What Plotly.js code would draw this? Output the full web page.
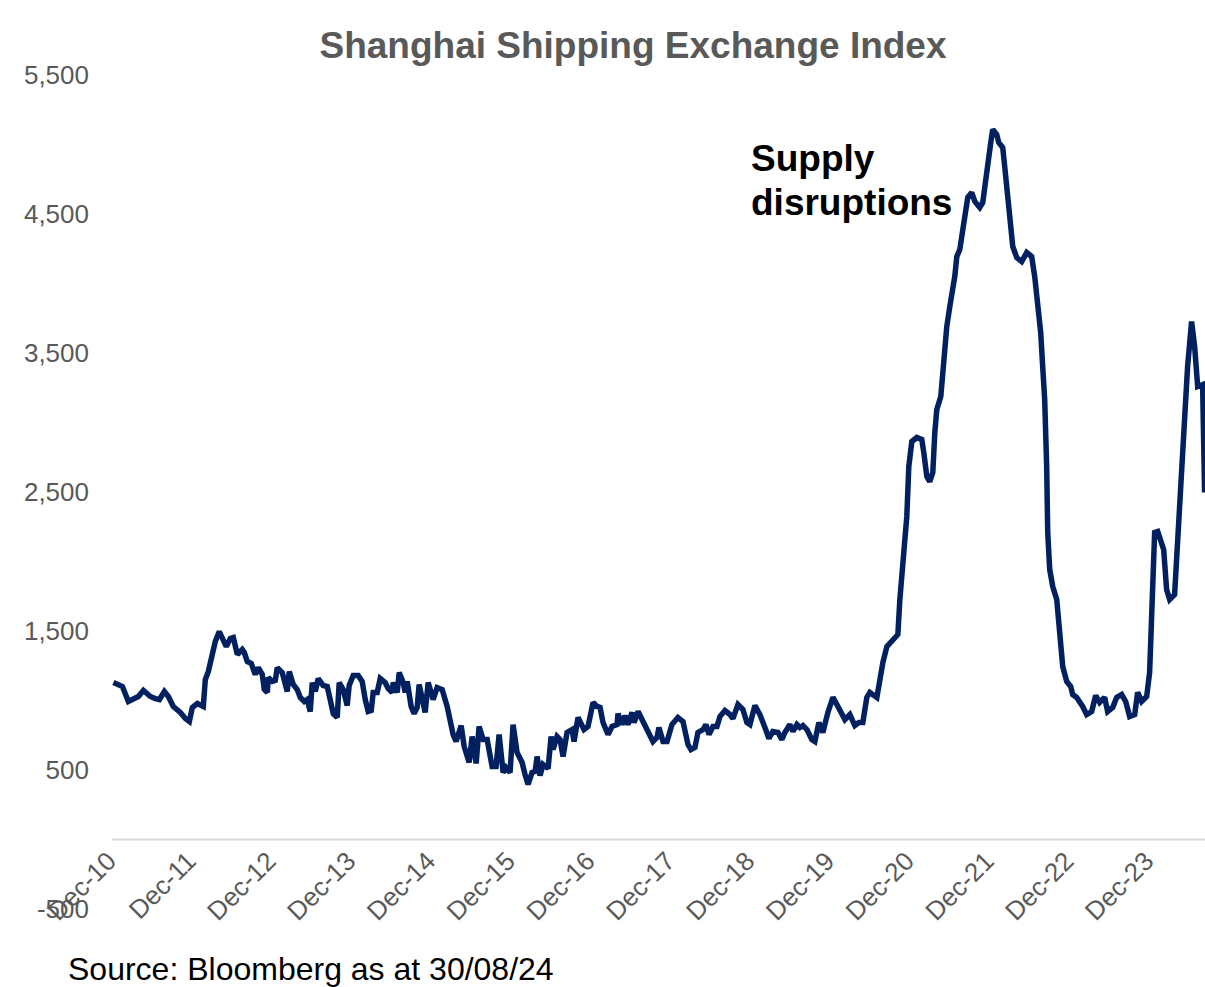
<!DOCTYPE html>
<html>
<head>
<meta charset="utf-8">
<script src="https://cdn.plot.ly/plotly-3.0.1.min.js"></script>
<style>
  html, body { margin: 0; padding: 0; background: #ffffff; }
  #chart { width: 1205px; height: 987px; }
</style>
</head>
<body>
<div id="chart"></div>
<script>
// Time position of each reading (decimal year) and SCFI value
const years = [
  2011.000,2011.113,2011.188,2011.250,2011.313,2011.376,2011.463,2011.526,2011.576,2011.639,2011.689,2011.751,2011.839,2011.902,2011.952,2011.989,
  2012.052,2012.127,2012.152,2012.190,2012.240,2012.277,2012.327,2012.365,2012.415,2012.465,2012.503,2012.553,2012.615,2012.641,2012.678,2012.728,2012.778,2012.816,2012.866,2012.891,2012.929,2012.941,2012.991,
  2013.029,2013.054,2013.116,2013.154,2013.179,2013.204,2013.254,2013.304,2013.342,2013.392,2013.429,2013.467,2013.492,2013.530,2013.567,2013.630,2013.680,2013.717,2013.755,2013.805,2013.830,2013.880,2013.930,2013.955,
  2014.006,2014.068,2014.118,2014.156,2014.193,2014.231,2014.256,2014.306,2014.344,2014.406,2014.444,2014.494,2014.506,2014.557,2014.582,2014.632,2014.657,2014.682,2014.732,2014.769,2014.807,2014.832,2014.882,2014.907,2014.945,
  2015.007,2015.057,2015.120,2015.183,2015.220,2015.258,2015.295,2015.358,2015.396,2015.458,2015.496,2015.546,2015.583,2015.634,2015.684,2015.746,2015.796,2015.834,2015.884,2015.921,2015.971,
  2016.009,2016.059,2016.122,2016.159,2016.197,2016.247,2016.285,2016.310,2016.347,2016.385,2016.448,2016.485,2016.510,2016.560,2016.598,2016.635,2016.685,2016.748,2016.773,2016.823,2016.898,2016.948,
  2017.011,2017.061,2017.099,2017.136,2017.199,2017.249,2017.312,2017.324,2017.374,2017.412,2017.449,2017.499,2017.525,2017.575,2017.637,2017.700,2017.762,2017.812,2017.837,2017.888,2017.938,
  2018.000,2018.075,2018.138,2018.201,2018.238,2018.288,2018.326,2018.389,2018.426,2018.464,2018.514,2018.564,2018.601,2018.664,2018.727,2018.764,2018.827,2018.889,2018.939,2018.977,
  2019.040,2019.102,2019.165,2019.215,2019.265,2019.328,2019.378,2019.415,2019.478,2019.516,2019.566,2019.603,2019.641,2019.691,2019.753,2019.791,2019.841,2019.891,2019.954,
  2020.017,2020.067,2020.129,2020.167,2020.229,2020.292,2020.342,2020.392,2020.442,2020.480,2020.568,2020.605,2020.643,2020.693,2020.755,2020.831,2020.856,2020.881,2020.906,2020.943,2020.968,
  2021.006,2021.068,2021.131,2021.156,2021.194,2021.231,2021.269,2021.294,2021.319,2021.369,2021.394,2021.444,2021.482,2021.507,2021.544,2021.570,2021.607,2021.645,2021.682,2021.707,2021.757,2021.795,2021.857,2021.895,2021.933,2021.958,2021.995,
  2022.020,2022.070,2022.095,2022.145,2022.170,2022.208,2022.246,2022.271,2022.321,2022.383,2022.446,2022.508,2022.546,2022.584,2022.621,2022.646,2022.671,2022.696,2022.709,2022.734,2022.772,2022.822,2022.859,2022.897,2022.947,2022.997,
  2023.022,2023.072,2023.147,2023.197,2023.260,2023.310,2023.360,2023.422,2023.460,2023.523,2023.573,2023.636,2023.686,2023.736,2023.799,2023.836,2023.886,2023.949,2023.986,
  2024.011,2024.036,2024.049,2024.087,2024.137,2024.162,2024.199,2024.237,2024.299,2024.337,2024.387,2024.425,2024.462,2024.512,2024.550,2024.588,2024.650,2024.675
];

const scfi = [
  1129,1101,993,1007,1029,1072,1029,1014,1007,1065,1029,957,914,870,849,950,
  978,957,1151,1209,1345,1424,1496,1446,1388,1446,1453,1331,1367,1345,1280,1266,1187,1237,1187,1079,1058,1165,1137,
  1144,1237,1201,1115,1065,1209,1115,1079,1022,993,1007,921,1129,1065,1158,1108,1101,1007,906,878,1129,1079,964,1108,
  1180,1180,1137,1007,921,928,1058,1058,1158,1129,1086,1058,1129,1058,1201,1129,1058,1137,957,906,950,1115,993,914,1129,
  1007,1093,1079,957,827,755,705,820,669,554,741,547,813,719,719,525,525,755,482,518,482,
  827,626,554,468,396,482,489,597,460,540,511,741,647,741,719,597,770,791,705,878,791,813,
  986,957,950,842,755,813,827,906,827,892,827,914,842,921,849,770,705,734,806,705,705,
  827,878,849,683,647,662,770,791,827,755,813,813,885,928,899,870,971,935,842,827,
  964,899,806,727,777,770,719,770,827,777,827,806,820,791,719,705,842,770,914,
  1022,971,899,863,899,820,842,842,1022,1058,1022,1165,1273,1388,1424,1475,1727,1870,2108,2324,2683,
  2863,2892,2878,2784,2611,2575,2640,2928,3093,3187,3403,3691,3834,3906,4050,4194,4244,4388,4511,4619,4654,4590,4547,4583,4748,4892,5014,
  5108,5072,5014,4978,4842,4604,4410,4266,4187,4158,4223,4194,4050,3863,3647,3403,3165,2683,2209,1942,1820,1727,1489,1245,1137,1101,
  1043,1022,957,899,921,1036,986,1022,921,950,1022,1043,993,885,899,1058,993,1029,1201,
  1748,1964,2209,2216,2137,2086,1799,1727,1763,2158,2683,3072,3403,3726,3547,3259,3273,2496
];

// X tick labels (one per December) and their positions
const xTickPos = [2010.94,2011.94,2012.94,2013.94,2014.94,2015.94,2016.94,2017.94,2018.94,2019.94,2020.94,2021.94,2022.94,2023.94];
const xTickText = ['Dec-10','Dec-11','Dec-12','Dec-13','Dec-14','Dec-15','Dec-16','Dec-17','Dec-18','Dec-19','Dec-20','Dec-21','Dec-22','Dec-23'];

// Y tick values and labels
const yTickVals = [-500, 500, 1500, 2500, 3500, 4500, 5500];
const yTickText = ['-500', '500', '1,500', '2,500', '3,500', '4,500', '5,500'];

const FONT = 'Liberation Sans, Arial, sans-serif';

const trace = {
  x: years,
  y: scfi,
  type: 'scatter',
  mode: 'lines',
  line: { color: '#002060', width: 5.5 },
  hoverinfo: 'skip',
  cliponaxis: true
};

const PLOT_L = 107;               // left edge of plotting area (px)
const PLOT_W = 1205 - PLOT_L;     // plotting area width (px)

const layout = {
  width: 1205,
  height: 987,
  margin: { l: PLOT_L, r: 0, t: 75, b: 78 },
  paper_bgcolor: '#ffffff',
  plot_bgcolor: '#ffffff',
  showlegend: false,
  font: { family: FONT, color: '#595959' },
  title: {
    text: '<b>Shanghai Shipping Exchange Index</b>',
    font: { family: FONT, size: 37, color: '#595959' },
    x: 633 / 1205, xref: 'container', xanchor: 'center',
    y: 1 - 45 / 987, yref: 'container', yanchor: 'middle'
  },
  xaxis: {
    type: 'linear',
    range: [2010.920, 2024.680],
    anchor: 'free',
    position: 500 / 6000,
    showgrid: false,
    zeroline: false,
    showline: false,
    ticks: '',
    tickmode: 'array',
    tickvals: xTickPos,
    ticktext: xTickText,
    tickangle: -45,
    tickfont: { family: FONT, size: 26, color: '#595959' }
  },
  yaxis: {
    range: [-500, 5500],
    showgrid: false,
    zeroline: false,
    showline: false,
    ticks: '',
    tickmode: 'array',
    tickvals: yTickVals,
    ticktext: yTickText,
    ticklabelstandoff: 17,
    tickfont: { family: FONT, size: 26, color: '#595959' }
  },
  shapes: [
    {
      // category axis line at zero
      type: 'line', xref: 'paper', yref: 'y',
      x0: (112 - PLOT_L) / PLOT_W, x1: 1, y0: 0, y1: 0,
      line: { color: '#d9d9d9', width: 2 },
      layer: 'below'
    }
  ],
  annotations: [
    {
      text: '<b>Supply</b>',
      xref: 'paper', yref: 'paper',
      x: (749 - PLOT_L) / PLOT_W, y: (909 - 158) / 834,
      xanchor: 'left', yanchor: 'middle',
      showarrow: false,
      font: { family: FONT, size: 37, color: '#000000' }
    },
    {
      text: '<b>disruptions</b>',
      xref: 'paper', yref: 'paper',
      x: (749 - PLOT_L) / PLOT_W, y: (909 - 202) / 834,
      xanchor: 'left', yanchor: 'middle',
      showarrow: false,
      font: { family: FONT, size: 37, color: '#000000' }
    },
    {
      text: 'Source: Bloomberg as at 30/08/24',
      xref: 'paper', yref: 'paper',
      x: (66 - PLOT_L) / PLOT_W, y: (909 - 969) / 834,
      xanchor: 'left', yanchor: 'middle',
      showarrow: false,
      font: { family: FONT, size: 32, color: '#000000' }
    }
  ]
};

Plotly.newPlot('chart', [trace], layout, { displayModeBar: false, staticPlot: true });
</script>
</body>
</html>
